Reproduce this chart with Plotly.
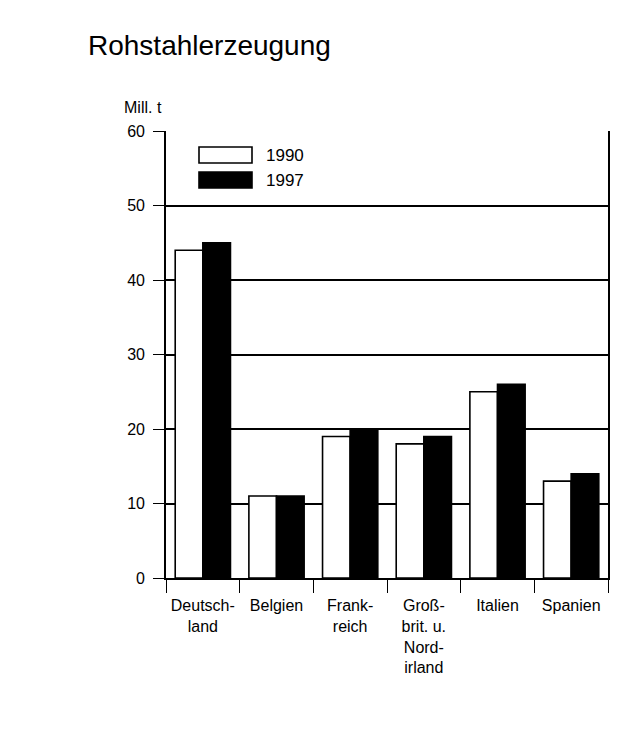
import plotly.graph_objects as go

categories = ["Deutsch-<br>land", "Belgien", "Frank-<br>reich",
              "Groß-<br>brit. u.<br>Nord-<br>irland", "Italien", "Spanien"]
series_names = ["1990", "1997"]
values_1990 = [44, 11, 19, 18, 25, 13]
values_1997 = [45, 11, 20, 19, 26, 14]
y_ticks = [0, 10, 20, 30, 40, 50, 60]

FONT = "Liberation Sans, Arial, sans-serif"

# page offset of 8 px (body margin)
W, H = 622, 721
L, T = 158, 123
PW, PH = 442, 447

fig = go.Figure()
fig.add_trace(go.Bar(x=categories, y=values_1990, name=series_names[0],
                     marker=dict(color="white", line=dict(color="black", width=1.6))))
fig.add_trace(go.Bar(x=categories, y=values_1997, name=series_names[1],
                     marker=dict(color="black", line=dict(color="black", width=1.6))))

fig.update_layout(
    width=W, height=H,
    paper_bgcolor="white", plot_bgcolor="white",
    margin=dict(l=L, r=W-L-PW, t=T, b=H-T-PH),
    barmode="group", bargap=0.25, bargroupgap=0,
    showlegend=False,
    font=dict(family=FONT, color="black", size=15),
    title=dict(text="Rohstahlerzeugung", x=80/W, xanchor="left",
               y=1-37/H, yanchor="middle",
               font=dict(family=FONT, size=28, color="black")),
)
fig.update_xaxes(
    showline=True, linecolor="black", linewidth=1.6, mirror=False,
    ticks="outside", tickson="boundaries", ticklen=13, tickwidth=1.4, tickcolor="black",
    ticklabelstandoff=12,
    showgrid=False, tickfont=dict(size=16), fixedrange=True,
)
fig.update_yaxes(
    range=[0, 60], tickvals=y_ticks, showline=True, linecolor="black", linewidth=1.6,
    mirror=True, ticks="outside", ticklen=11, tickwidth=1.4, tickcolor="black",
    ticklabelstandoff=5,
    showgrid=True, gridcolor="black", gridwidth=1.5, zeroline=False,
    tickfont=dict(size=16), fixedrange=True,
)

def px_x(x):
    return (x - 8 - L) / PW

def px_y(y):
    return (T + PH - (y - 8)) / PH

# unit label
fig.add_annotation(text="Mill. t", xref="paper", yref="paper",
                   x=px_x(122), y=px_y(108), xanchor="left", yanchor="middle",
                   showarrow=False, font=dict(size=16))

# legend drawn as shapes
leg = [(155, "white"), (180, "black")]
for (yc, col), name in zip(leg, series_names):
    fig.add_shape(type="rect", xref="paper", yref="paper",
                  x0=px_x(199), x1=px_x(252),
                  y0=px_y(yc + 8), y1=px_y(yc - 8),
                  fillcolor=col, line=dict(color="black", width=1.6))
    fig.add_annotation(text=name, xref="paper", yref="paper",
                       x=px_x(264), y=px_y(yc), xanchor="left", yanchor="middle",
                       showarrow=False, font=dict(size=17))

fig.write_html("out.html")
